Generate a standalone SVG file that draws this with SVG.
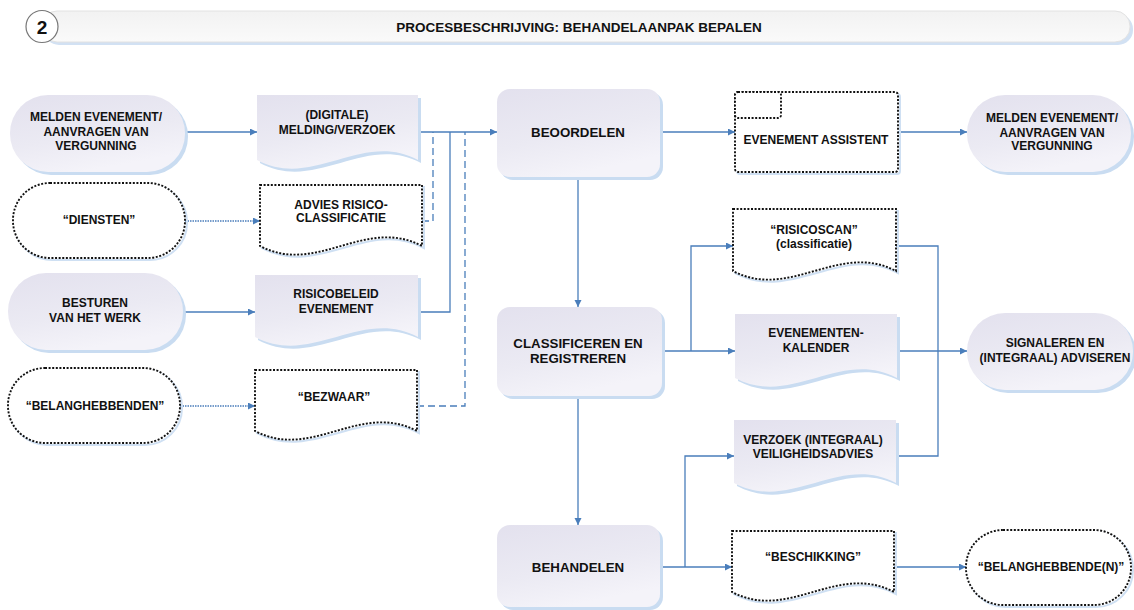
<svg xmlns="http://www.w3.org/2000/svg" width="1134" height="610" viewBox="0 0 1134 610">
<style>
text{font-family:"Liberation Sans",Arial,sans-serif;font-weight:bold;font-size:12px;fill:#111;text-anchor:middle}
text.big{font-size:13.3px}
.fill{fill:url(#g);stroke:none}
.sh{fill:#c9dcf1;stroke:none}
.dot{fill:#fff;stroke:#111;stroke-width:1.9;stroke-dasharray:2 1.6}
.dsh{fill:none;stroke:#cfe0f3;stroke-width:2}
.c{fill:none;stroke:#4a7ebb;stroke-width:1.3}
.ca{fill:none;stroke:#4a7ebb;stroke-width:1.3;marker-end:url(#ar)}
.cd{fill:none;stroke:#4a7ebb;stroke-width:1.3;stroke-dasharray:7 4}
.cp{fill:none;stroke:#4a7ebb;stroke-width:1.6;stroke-dasharray:1.5 1;marker-end:url(#ar)}
</style>
<defs>
<linearGradient id="g" x1="0" y1="0" x2="0.4" y2="1">
<stop offset="0" stop-color="#e3e1ee"/>
<stop offset="0.6" stop-color="#ebeaf3"/>
<stop offset="1" stop-color="#f4f3f9"/>
</linearGradient>
<linearGradient id="hb" x1="0" y1="0" x2="0" y2="1">
<stop offset="0" stop-color="#f2f2f2"/>
<stop offset="1" stop-color="#fafafa"/>
</linearGradient>
<marker id="ar" markerUnits="userSpaceOnUse" markerWidth="8" markerHeight="8" refX="7" refY="3.5" orient="auto">
<path d="M0,0 L7,3.5 L0,7 Z" fill="#4a7ebb"/>
</marker>
</defs>

<g id="header">
<rect x="44" y="14" width="1089" height="31" rx="15" fill="#d2e1f3"/>
<rect x="42" y="11" width="1088" height="31" rx="15" fill="url(#hb)" stroke="#e2e2e2" stroke-width="1"/>
<circle cx="42" cy="26.5" r="16" fill="#fff" stroke="#777" stroke-width="1.2"/>
<text x="42" y="33.5" style="font-size:19px">2</text>
<text x="579" y="31.5" style="font-size:13.5px">PROCESBESCHRIJVING: BEHANDELAANPAK BEPALEN</text>
</g>

<g id="connectors">
<path class="ca" d="M185,132 H257"/>
<path class="cp" d="M185,221 H260"/>
<path class="ca" d="M183,312 H255"/>
<path class="cp" d="M180,406 H255"/>
<path class="ca" d="M418,132 H497"/>
<path class="cd" d="M422,221 H433 V132"/>
<path class="c" d="M418,312 H450 V132"/>
<path class="cd" d="M417,406 H465 V132"/>
<path class="ca" d="M660,132 H735"/>
<path class="ca" d="M898,132 H967"/>
<path class="ca" d="M578,177 V307"/>
<path class="ca" d="M662,351 H735"/>
<path class="ca" d="M691,351 V246 H733"/>
<path class="c" d="M896,246 H938 V456 H896"/>
<path class="ca" d="M897,351 H967"/>
<path class="ca" d="M578,396 V525"/>
<path class="ca" d="M660,567 H732"/>
<path class="ca" d="M685,567 V456 H734"/>
<path class="ca" d="M894,567 H966"/>
</g>

<g id="n_melden1">
<rect class="sh" x="13" y="98" width="175" height="77" rx="38"/>
<rect class="fill" x="10" y="95" width="175" height="77" rx="38"/>
<text x="96" y="121">MELDEN EVENEMENT/</text>
<text x="96" y="136">AANVRAGEN VAN</text>
<text x="96" y="150">VERGUNNING</text>
</g>

<g id="n_digitale">
<path class="sh" d="M260,98 H421 V163 C365,133 316,193 260,163 Z"/>
<path class="fill" d="M257,95 H418 V160 C362,130 313,190 257,160 Z"/>
<text x="337" y="119">(DIGITALE)</text>
<text x="337" y="134">MELDING/VERZOEK</text>
</g>

<g id="n_diensten">
<rect class="dsh" x="15" y="185" width="172" height="75" rx="37"/>
<rect class="dot" x="13" y="183" width="172" height="75" rx="37"/>
<text x="99" y="224">“DIENSTEN”</text>
</g>

<g id="n_advies">
<path class="dsh" d="M262,187 H424 V248 C367,218 319,278 262,248 Z"/>
<path class="dot" d="M260,185 H422 V246 C365,216 317,276 260,246 Z"/>
<text x="341" y="209">ADVIES RISICO-</text>
<text x="341" y="222">CLASSIFICATIE</text>
</g>

<g id="n_besturen">
<rect class="sh" x="11" y="276" width="175" height="77" rx="38"/>
<rect class="fill" x="8" y="273" width="175" height="77" rx="38"/>
<text x="95" y="307">BESTUREN</text>
<text x="95" y="322">VAN HET WERK</text>
</g>

<g id="n_risicobeleid">
<path class="sh" d="M258,278 H421 V340 C364,310 315,370 258,340 Z"/>
<path class="fill" d="M255,275 H418 V337 C361,307 312,367 255,337 Z"/>
<text x="336" y="298">RISICOBELEID</text>
<text x="336" y="313">EVENEMENT</text>
</g>

<g id="n_belanghebbenden">
<rect class="dsh" x="10" y="370" width="172" height="75" rx="37"/>
<rect class="dot" x="8" y="368" width="172" height="75" rx="37"/>
<text x="95" y="410">“BELANGHEBBENDEN”</text>
</g>

<g id="n_bezwaar">
<path class="dsh" d="M257,372 H419 V433 C362,403 314,463 257,433 Z"/>
<path class="dot" d="M255,370 H417 V431 C360,401 312,461 255,431 Z"/>
<text x="334" y="401">“BEZWAAR”</text>
</g>

<g id="n_beoordelen">
<rect class="sh" x="500" y="92" width="163" height="88" rx="13"/>
<rect class="fill" x="497" y="89" width="163" height="88" rx="13"/>
<text class="big" x="578" y="136.5">BEOORDELEN</text>
</g>

<g id="n_assistent">
<rect class="dsh" x="737" y="94" width="163" height="80" rx="3"/>
<rect class="dot" x="735" y="92" width="163" height="80" rx="3"/>
<rect class="dot" x="735" y="92" width="46" height="26" rx="3"/>
<text x="816" y="143.5">EVENEMENT ASSISTENT</text>
</g>

<g id="n_melden2">
<rect class="sh" x="970" y="98" width="164" height="77" rx="38"/>
<rect class="fill" x="967" y="95" width="164" height="77" rx="38"/>
<text x="1052" y="122">MELDEN EVENEMENT/</text>
<text x="1052" y="136.5">AANVRAGEN VAN</text>
<text x="1052" y="150">VERGUNNING</text>
</g>

<g id="n_risicoscan">
<path class="dsh" d="M735,211 H898 V273 C841,243 792,303 735,273 Z"/>
<path class="dot" d="M733,209 H896 V271 C839,241 790,301 733,271 Z"/>
<text x="814" y="234">“RISICOSCAN”</text>
<text x="814" y="248">(classificatie)</text>
</g>

<g id="n_classificeren">
<rect class="sh" x="500" y="310" width="165" height="89" rx="13"/>
<rect class="fill" x="497" y="307" width="165" height="89" rx="13"/>
<text class="big" x="578" y="347.5">CLASSIFICEREN EN</text>
<text class="big" x="578" y="363">REGISTREREN</text>
</g>

<g id="n_kalender">
<path class="sh" d="M738,317 H900 V381 C843,351 795,411 738,381 Z"/>
<path class="fill" d="M735,314 H897 V378 C840,348 792,408 735,378 Z"/>
<text x="816" y="337">EVENEMENTEN-</text>
<text x="816" y="352">KALENDER</text>
</g>

<g id="n_signaleren">
<rect class="sh" x="970" y="316" width="166" height="77" rx="38"/>
<rect class="fill" x="967" y="313" width="166" height="77" rx="38"/>
<text x="1055" y="347">SIGNALEREN EN</text>
<text x="1055" y="362">(INTEGRAAL) ADVISEREN</text>
</g>

<g id="n_verzoek">
<path class="sh" d="M737,423 H899 V486 C842,456 794,516 737,486 Z"/>
<path class="fill" d="M734,420 H896 V483 C839,453 791,513 734,483 Z"/>
<text x="813" y="444">VERZOEK (INTEGRAAL)</text>
<text x="813" y="458">VEILIGHEIDSADVIES</text>
</g>

<g id="n_behandelen">
<rect class="sh" x="500" y="528" width="163" height="82" rx="13"/>
<rect class="fill" x="497" y="525" width="163" height="82" rx="13"/>
<text class="big" x="578" y="571.5">BEHANDELEN</text>
</g>

<g id="n_beschikking">
<path class="dsh" d="M734,533 H896 V594 C839,564 791,624 734,594 Z"/>
<path class="dot" d="M732,531 H894 V592 C837,562 789,622 732,592 Z"/>
<text x="813" y="561">“BESCHIKKING”</text>
</g>

<g id="n_belanghebbenden2">
<rect class="dsh" x="968" y="532" width="165" height="75" rx="37"/>
<rect class="dot" x="966" y="530" width="165" height="75" rx="37"/>
<text x="1051" y="571">“BELANGHEBBENDE(N)”</text>
</g>
</svg>
